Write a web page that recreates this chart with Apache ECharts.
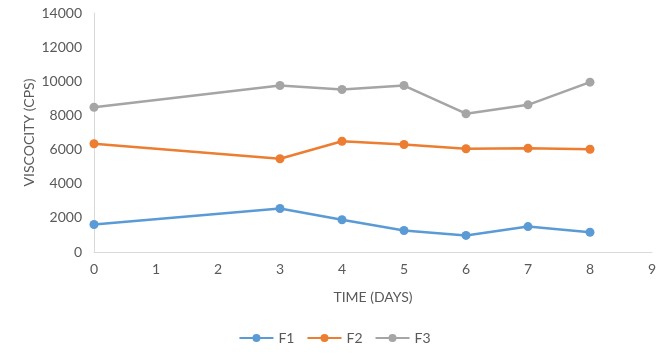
<!DOCTYPE html>
<html><head><meta charset="utf-8">
<script src="https://cdn.jsdelivr.net/npm/echarts@6/dist/echarts.min.js"></script>
<style>html,body{margin:0;padding:0;background:#fff}#c{width:669px;height:359px}</style>
</head><body><div id="c"></div>
<script>
const days = [0, 3, 4, 5, 6, 7, 8];
const f1 = [1610, 2550, 1890, 1260, 970, 1490, 1160];
const f2 = [6340, 5460, 6490, 6300, 6050, 6080, 6020];
const f3 = [8480, 9750, 9520, 9750, 8100, 8620, 9950];
const seriesNames = ['F1', 'F2', 'F3'];
const colors = ['#5B9BD5', '#ED7D31', '#A5A5A5'];
const values = [f1, f2, f3];
const font = 'Lato, "Open Sans", sans-serif';
const chart = echarts.init(document.getElementById('c'));
chart.setOption({
  animation: false,
  textStyle: {fontFamily: font},
  grid: {left: 94, right: 17, top: 13, bottom: 107},
  xAxis: {
    type: 'value', min: 0, max: 9, interval: 1,
    name: 'TIME (DAYS)', nameLocation: 'middle', nameGap: 38,
    nameTextStyle: {color: '#595959', fontSize: 14, fontFamily: font},
    axisLine: {lineStyle: {color: '#d9d9d9', width: 1}},
    axisTick: {show: false},
    splitLine: {show: false},
    axisLabel: {color: '#595959', fontSize: 14, margin: 10, fontFamily: font}
  },
  yAxis: {
    type: 'value', min: 0, max: 14000, interval: 2000,
    name: 'VISCOCITY (CPS)', nameLocation: 'middle', nameGap: 58, nameMoveOverlap: false,
    nameTextStyle: {color: '#595959', fontSize: 14, fontFamily: font},
    axisLine: {show: true, lineStyle: {color: '#d9d9d9', width: 1}},
    axisTick: {show: false},
    splitLine: {show: false},
    axisLabel: {color: '#595959', fontSize: 14, margin: 12, fontFamily: font,
      formatter: v => String(v)}
  },
  legend: {
    bottom: 9, left: 'center', itemWidth: 34, itemHeight: 10, itemGap: 12,
    textStyle: {color: '#595959', fontSize: 14, fontFamily: font},
    data: seriesNames
  },
  series: seriesNames.map((n, i) => ({
    name: n, type: 'line',
    data: days.map((d, j) => [d, values[i][j]]),
    color: colors[i],
    lineStyle: {width: 2.5, color: colors[i]},
    symbol: 'circle', symbolSize: 9,
    itemStyle: {color: colors[i]}
  }))
});
</script></body></html>
